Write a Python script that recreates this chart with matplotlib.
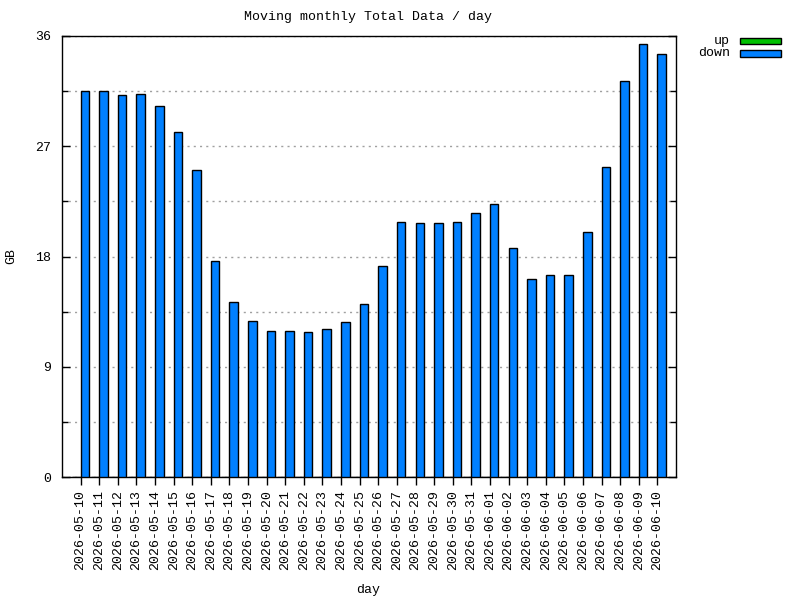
import numpy as np
import matplotlib
matplotlib.use('Agg')
import matplotlib.pyplot as plt
from matplotlib.patches import Rectangle

days = ['2026-05-10', '2026-05-11', '2026-05-12', '2026-05-13', '2026-05-14',
        '2026-05-15', '2026-05-16', '2026-05-17', '2026-05-18', '2026-05-19',
        '2026-05-20', '2026-05-21', '2026-05-22', '2026-05-23', '2026-05-24',
        '2026-05-25', '2026-05-26', '2026-05-27', '2026-05-28', '2026-05-29',
        '2026-05-30', '2026-05-31', '2026-06-01', '2026-06-02', '2026-06-03',
        '2026-06-04', '2026-06-05', '2026-06-06', '2026-06-07', '2026-06-08',
        '2026-06-09', '2026-06-10']
down = [31.5, 31.5, 31.2, 31.3, 30.3, 28.2, 25.1, 17.6, 14.3, 12.7,
        11.9, 11.9, 11.8, 12.1, 12.65, 14.1, 17.2, 20.8, 20.7, 20.7,
        20.8, 21.55, 22.3, 18.7, 16.2, 16.5, 16.5, 20.0, 25.3, 32.3,
        35.35, 34.5]
up = [0.0] * len(days)

plt.rcParams['font.family'] = ['Liberation Mono', 'DejaVu Sans Mono']
plt.rcParams['font.size'] = 9.5

fig = plt.figure(figsize=(8, 6), dpi=100)
ax = fig.add_axes([62 / 800, 1 - 477 / 600, 614 / 800, 441 / 600])

x = np.arange(len(days))
w = 0.46
ax.bar(x - w / 2, up, width=w, color='#00c000', edgecolor='black', linewidth=1, zorder=3)
ax.bar(x + w / 2, down, width=w, color='#0080ff', edgecolor='black', linewidth=1, zorder=3)

ax.set_xlim(-1, 32)
ax.set_ylim(0, 36)
ax.set_xticks(x)
ax.set_xticklabels(days, rotation=90)
ax.set_yticks([0, 9, 18, 27, 36])
ax.set_yticks([4.5, 13.5, 22.5, 31.5], minor=True)

ax.tick_params(axis='x', direction='out', length=6, width=1, top=False, pad=3)
ax.tick_params(axis='y', which='both', direction='in', length=6, width=1, right=True, pad=8)
ax.tick_params(axis='y', which='minor', length=4)

ax.grid(axis='y', which='both', color='#a0a0a0', linestyle=(0, (1.5, 3)), linewidth=1, zorder=0)
for s in ax.spines.values():
    s.set_linewidth(1)

fig.text(368 / 800, 1 - 17 / 600, 'Moving monthly Total Data / day', ha='center', va='center')
fig.text(368 / 800, 1 - 590 / 600, 'day', ha='center', va='center')
fig.text(11 / 800, 1 - 256 / 600, 'GB', ha='center', va='center', rotation=90)

# legend drawn by hand, labels right aligned like gnuplot
for i, (lab, col) in enumerate([('up', '#00c000'), ('down', '#0080ff')]):
    yc = 1 - (41 + 12.5 * i) / 600
    fig.text(730 / 800, yc, lab, ha='right', va='center')
    fig.patches.append(Rectangle((740 / 800, yc - 3 / 600), 41 / 800, 6 / 600,
                                 transform=fig.transFigure, facecolor=col,
                                 edgecolor='black', linewidth=1))

fig.savefig('out.png', dpi=100)
